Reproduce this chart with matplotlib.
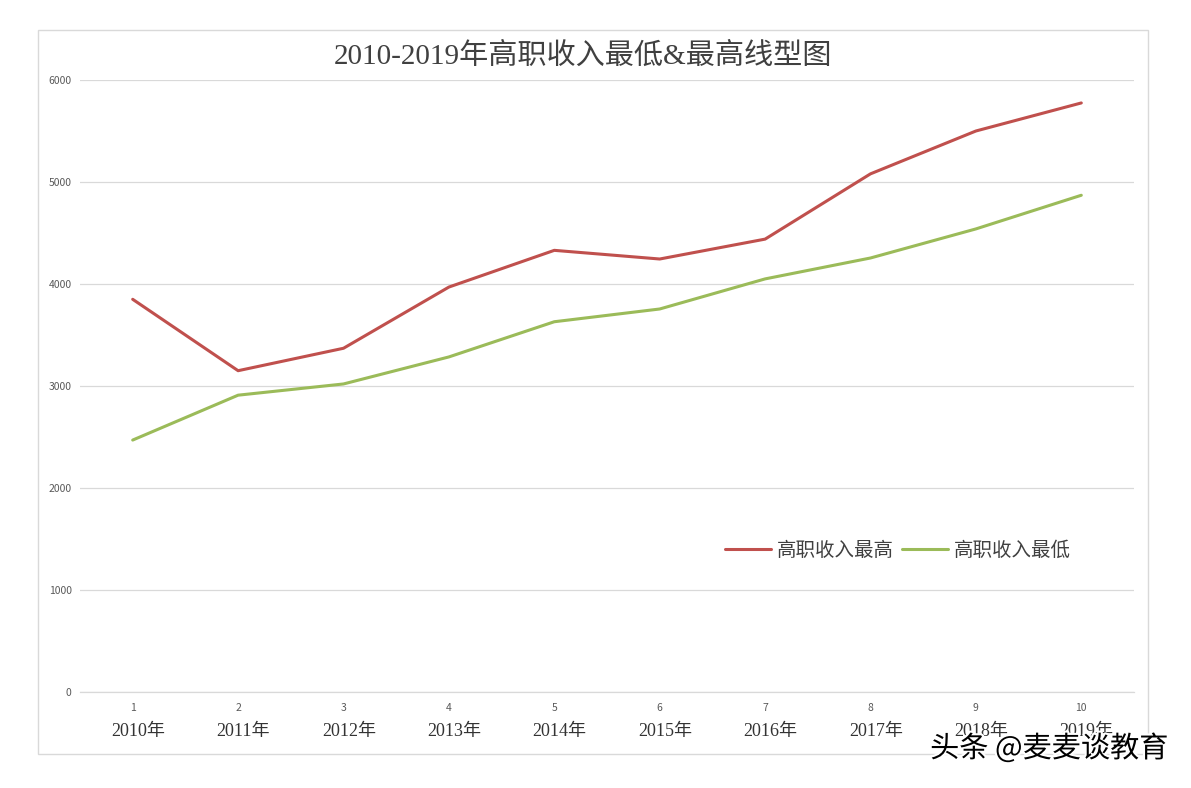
import matplotlib
matplotlib.use("Agg")
import matplotlib.pyplot as plt
import matplotlib.patheffects as pe
from matplotlib.patches import Rectangle
import matplotlib.transforms as mtransforms

plt.rcParams["font.family"] = ["Noto Sans CJK SC", "DejaVu Sans"]

# ── Data ──────────────────────────────────────────────────────────────────────
categories = [1, 2, 3, 4, 5, 6, 7, 8, 9, 10]
year_labels = ["2010年", "2011年", "2012年", "2013年", "2014年",
               "2015年", "2016年", "2017年", "2018年", "2019年"]
income_high = [3850, 3150, 3370, 3970, 4330, 4245, 4440, 5080, 5500, 5775]
income_low = [2470, 2910, 3020, 3285, 3630, 3755, 4050, 4255, 4540, 4870]

COLOURS = {
    "high": "#C0504D",
    "low": "#9BBB59",
    "grid": "#D9D9D9",
    "tick": "#595959",
    "text": "#404040",
}
SERIF = ["Liberation Serif", "Noto Sans CJK SC"]

fig = plt.figure(figsize=(11.91, 7.88), dpi=100)
W, H = 1191, 788
ax = fig.add_axes([80 / W, 1 - 692 / H, (1134 - 80) / W, (692 - 80) / H])

# outer chart frame
fig.patches.append(Rectangle((38 / W, 1 - 754 / H), (1148 - 38) / W, (754 - 30) / H,
                             transform=fig.transFigure, fill=False,
                             edgecolor=COLOURS["grid"], linewidth=1))

ax.plot(categories, income_high, color=COLOURS["high"], linewidth=2.2,
        label="高职收入最高", solid_capstyle="round")
ax.plot(categories, income_low, color=COLOURS["low"], linewidth=2.2,
        label="高职收入最低", solid_capstyle="round")

ax.set_xlim(0.5, 10.5)
ax.set_ylim(0, 6000)
ax.set_yticks(range(0, 6001, 1000))
ax.set_xticks(categories)
ax.set_xticklabels([str(c) for c in categories])
ax.tick_params(axis="both", length=0, labelsize=7.5, labelcolor=COLOURS["tick"])
ax.tick_params(axis="x", pad=8)
ax.tick_params(axis="y", pad=6)
ax.grid(axis="y", color=COLOURS["grid"], linewidth=0.9)
ax.set_axisbelow(True)
for s in ax.spines.values():
    s.set_visible(False)
ax.spines["bottom"].set_visible(True)
ax.spines["bottom"].set_color(COLOURS["grid"])
ax.spines["bottom"].set_linewidth(0.9)

# year row under the category numbers
trans = mtransforms.blended_transform_factory(ax.transData, ax.transAxes)
for c, lab in zip(categories, year_labels):
    ax.text(c + 0.05, -0.064, lab, transform=trans, ha="center", va="center",
            fontsize=13, family=SERIF, color="#333333")

fig.text(583 / W, 1 - 56 / H, "2010-2019年高职收入最低&最高线型图",
         ha="center", va="center", fontsize=21, family=SERIF, color="#404040")

ax.legend(loc="center", bbox_to_anchor=(0.776, 0.232), ncol=2, frameon=False,
          fontsize=14, handlelength=2.4, handletextpad=0.3, columnspacing=0.4,
          labelcolor=COLOURS["text"])

# watermark
fig.text(1168 / W, 1 - 749 / H, "头条 @麦麦谈教育", ha="right", va="center",
         fontsize=21, fontweight="medium", color="black",
         path_effects=[pe.withStroke(linewidth=3, foreground="white")])

fig.savefig("out.png", dpi=100, facecolor="white")
